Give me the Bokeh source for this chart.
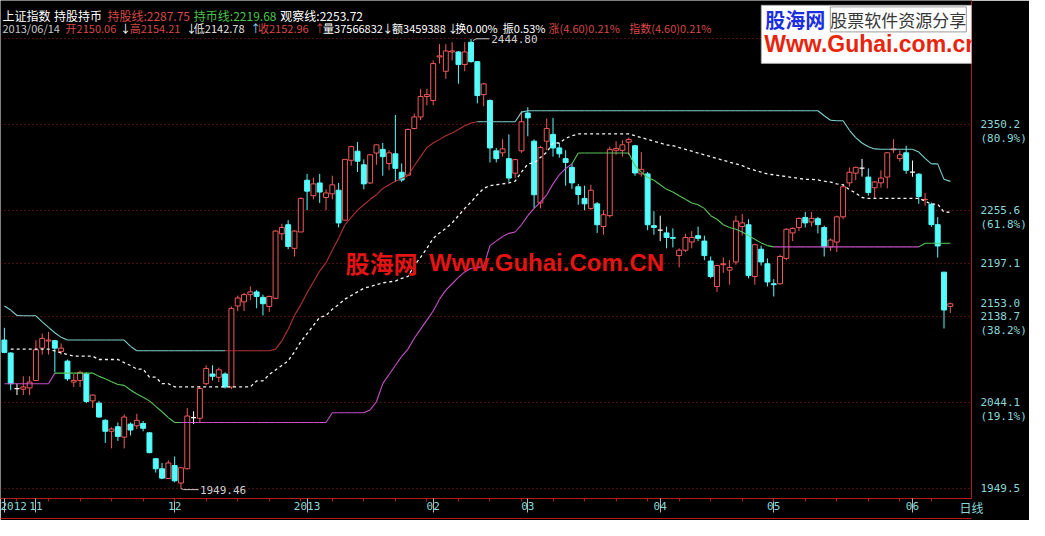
from bokeh.plotting import figure
from bokeh.models import Range1d, FixedTicker, Label, LinearAxis
from bokeh.embed import file_html
from bokeh.resources import INLINE

NAN = float("nan")

# ------------------------------------------------------------------ data
open_ = [2113.0, 2098.7, 2059.6, 2058.9, 2060.3, 2068.5, 2104.1, 2112.0, 2112.3, 2100.5,
         2089.8, 2066.7, 2068.5, 2075.6, 2046.0, 2043.5, 2024.6, 2012.5, 2017.5, 2006.1,
         2020.4, 2018.6, 2021.1, 2010.8, 1982.3, 1971.2, 1960.5, 1974.8, 1955.5, 1971.2,
         2027.5, 2026.8, 2064.9, 2075.6, 2072.0, 2075.6, 2061.3, 2150.5, 2155.0, 2163.0,
         2166.0, 2160.0, 2150.0, 2159.0, 2230.0, 2240.0, 2214.0, 2232.0, 2289.0, 2272.0,
         2286.0, 2270.0, 2274.0, 2278.0, 2245.0, 2311.0, 2321.0, 2306.0, 2286.0, 2319.0,
         2323.0, 2307.5, 2318.1, 2297.8, 2294.6, 2346.0, 2358.7, 2381.2, 2376.9, 2424.8,
         2409.0, 2430.3, 2430.3, 2416.4, 2441.0, 2419.6, 2383.3, 2376.9, 2321.4, 2319.2,
         2312.8, 2296.8, 2321.4, 2363.0, 2332.0, 2264.0, 2332.0, 2339.5, 2324.6, 2312.8,
         2303.2, 2281.8, 2269.0, 2258.0, 2263.0, 2238.0, 2250.0, 2322.0, 2322.0, 2331.0,
         2327.0, 2296.0, 2296.0, 2239.0, 2234.0, 2231.0, 2226.0, 2206.0, 2212.0, 2221.0,
         2228.0, 2222.0, 2200.0, 2172.0, 2196.0, 2190.0, 2199.0, 2238.0, 2240.0, 2183.0,
         2213.0, 2197.0, 2175.0, 2175.0, 2203.0, 2231.0, 2237.0, 2248.0, 2243.0, 2246.6,
         2236.9, 2215.6, 2220.9, 2248.7, 2286.1, 2296.8, 2302.3, 2292.5, 2280.7, 2286.1,
         2292.5, 2322.5, 2312.8, 2319.2, 2298.0, 2295.7, 2267.6, 2262.6, 2240.1, 2187.8,
         2150.06]
high = [2126.5, 2099.5, 2064.9, 2073.1, 2073.1, 2112.9, 2120.1, 2121.9, 2113.0, 2109.4,
        2091.6, 2075.6, 2079.2, 2077.4, 2053.1, 2046.0, 2025.7, 2016.8, 2022.2, 2031.1,
        2022.2, 2031.8, 2023.9, 2011.5, 1982.3, 1977.6, 1980.5, 1984.8, 1972.3, 2038.2,
        2034.6, 2062.4, 2085.2, 2085.2, 2082.7, 2077.4, 2150.0, 2162.0, 2165.0, 2172.0,
        2168.0, 2163.0, 2162.0, 2234.0, 2241.0, 2245.0, 2234.0, 2270.0, 2296.0, 2292.0,
        2296.0, 2279.0, 2294.0, 2286.0, 2312.0, 2327.0, 2331.0, 2312.0, 2318.0, 2328.0,
        2330.0, 2322.0, 2360.9, 2307.5, 2346.0, 2362.3, 2389.8, 2389.8, 2421.0, 2438.9,
        2438.9, 2441.0, 2431.4, 2441.0, 2444.8, 2420.0, 2396.1, 2378.0, 2324.6, 2334.2,
        2339.5, 2312.8, 2365.1, 2369.4, 2334.0, 2327.0, 2357.0, 2357.7, 2330.0, 2322.0,
        2307.0, 2285.0, 2283.0, 2284.0, 2265.0, 2256.0, 2326.0, 2332.0, 2333.0, 2336.0,
        2328.0, 2320.0, 2298.0, 2255.0, 2250.0, 2238.0, 2236.0, 2214.0, 2230.0, 2233.0,
        2238.0, 2228.0, 2205.0, 2196.0, 2204.0, 2201.0, 2250.0, 2252.0, 2246.0, 2219.0,
        2217.0, 2203.0, 2180.0, 2207.0, 2236.0, 2237.0, 2248.0, 2254.0, 2254.0, 2248.7,
        2239.0, 2225.0, 2250.0, 2285.0, 2303.0, 2304.0, 2312.5, 2302.0, 2288.0, 2300.0,
        2320.0, 2334.2, 2322.0, 2327.0, 2310.7, 2296.8, 2275.0, 2264.4, 2248.4, 2187.8,
        2154.21]
low = [2098.5, 2057.8, 2052.4, 2052.4, 2052.4, 2068.0, 2096.9, 2096.9, 2077.4, 2096.9,
       2068.0, 2061.3, 2061.3, 2043.5, 2038.2, 2027.5, 1999.7, 1993.7, 2001.9, 1993.7,
       2007.9, 2015.0, 2012.5, 1988.3, 1967.0, 1959.8, 1959.8, 1956.3, 1949.46, 1970.5,
       2020.4, 2022.2, 2063.1, 2068.5, 2066.7, 2059.6, 2059.0, 2145.0, 2145.0, 2157.0,
       2148.0, 2140.0, 2144.0, 2158.0, 2223.0, 2213.0, 2205.0, 2232.0, 2256.0, 2268.0,
       2264.0, 2256.0, 2268.0, 2237.0, 2245.0, 2305.0, 2298.0, 2279.0, 2285.0, 2306.0,
       2294.0, 2300.0, 2287.2, 2287.2, 2293.6, 2344.9, 2355.2, 2371.6, 2371.6, 2417.5,
       2400.6, 2421.0, 2395.3, 2409.0, 2418.5, 2373.7, 2370.5, 2308.6, 2308.6, 2314.9,
       2287.2, 2291.4, 2319.2, 2337.4, 2258.0, 2258.0, 2322.0, 2315.0, 2313.8, 2283.0,
       2279.6, 2262.0, 2256.0, 2256.0, 2231.0, 2229.0, 2248.0, 2317.0, 2315.0, 2317.0,
       2294.0, 2293.0, 2234.0, 2229.0, 2222.0, 2214.0, 2215.0, 2193.0, 2210.0, 2214.0,
       2222.0, 2201.0, 2181.0, 2166.0, 2187.0, 2174.0, 2196.0, 2228.0, 2181.0, 2174.0,
       2195.0, 2172.0, 2161.0, 2174.0, 2201.0, 2222.0, 2233.0, 2237.0, 2238.0, 2230.5,
       2205.0, 2211.0, 2210.0, 2246.0, 2282.0, 2289.0, 2293.0, 2272.0, 2269.0, 2281.0,
       2280.0, 2319.2, 2309.6, 2296.0, 2292.8, 2263.0, 2260.8, 2237.7, 2203.8, 2125.7,
       2142.78]
close = [2099.4, 2064.9, 2059.6, 2061.3, 2066.7, 2102.3, 2114.8, 2113.0, 2104.1, 2104.1,
         2070.3, 2068.5, 2077.4, 2045.3, 2052.4, 2028.2, 2012.5, 2015.0, 2006.9, 2028.2,
         2013.9, 2024.6, 2015.8, 1989.0, 1971.2, 1960.9, 1977.6, 1958.0, 1972.3, 2029.3,
         2027.5, 2059.6, 2081.6, 2073.1, 2080.2, 2061.3, 2147.9, 2159.3, 2163.0, 2166.0,
         2161.0, 2153.0, 2161.0, 2233.0, 2237.0, 2216.0, 2233.0, 2269.0, 2277.0, 2285.0,
         2276.0, 2275.0, 2284.0, 2242.0, 2312.0, 2326.0, 2310.0, 2285.0, 2317.0, 2328.0,
         2315.0, 2319.2, 2302.1, 2289.3, 2344.9, 2358.7, 2381.2, 2383.3, 2417.5, 2426.0,
         2431.4, 2431.4, 2416.4, 2430.3, 2419.6, 2382.3, 2395.1, 2324.6, 2312.8, 2323.5,
         2291.4, 2311.7, 2353.4, 2357.7, 2273.0, 2325.0, 2345.9, 2324.6, 2318.1, 2308.6,
         2286.1, 2273.3, 2263.0, 2278.0, 2240.0, 2251.0, 2323.0, 2324.0, 2328.0, 2334.0,
         2297.0, 2301.0, 2240.0, 2237.0, 2234.0, 2226.0, 2225.0, 2212.0, 2226.0, 2226.0,
         2225.0, 2206.0, 2183.0, 2195.0, 2197.0, 2193.0, 2244.0, 2242.0, 2184.0, 2218.0,
         2199.0, 2177.0, 2174.0, 2205.0, 2235.0, 2236.0, 2247.0, 2242.0, 2247.0, 2240.1,
         2215.6, 2223.1, 2248.7, 2281.8, 2297.8, 2303.2, 2302.3, 2275.4, 2287.1, 2291.4,
         2319.2, 2323.5, 2317.0, 2300.0, 2298.0, 2271.2, 2268.0, 2240.1, 2216.6, 2146.1,
         2152.96]

month_pos = [0, 5, 27, 48, 68, 83, 104, 122, 144]
month_lab = ["2012", "11", "12", "2013", "02", "03", "04", "05", "06"]

# 持股线 (upper stop line); state C = cyan, R = red
hold_line = [2150.4, 2146.0, 2140.0, 2139.7, 2139.7, 2139.7, 2133.0, 2127.0, 2121.0, 2116.0,
             2113.0, 2113.0, 2113.0, 2113.0, 2113.0, 2113.0, 2113.0, 2113.0, 2113.0, 2113.0,
             2106.0, 2101.2, 2101.2, 2101.2, 2101.2, 2101.2, 2101.2, 2101.2, 2101.2, 2101.2,
             2101.2, 2101.2, 2101.2, 2101.2, 2101.2, 2101.2, 2101.2, 2101.2, 2101.2, 2101.2,
             2101.2, 2101.2, 2101.2, 2103.0, 2112.0, 2125.0, 2140.0, 2152.0, 2165.0, 2177.0,
             2189.0, 2198.0, 2212.0, 2225.0, 2240.0, 2248.0, 2256.0, 2262.0, 2268.0, 2273.0,
             2280.0, 2284.0, 2288.0, 2291.0, 2294.0, 2305.0, 2315.0, 2325.0, 2330.0, 2334.0,
             2338.0, 2341.0, 2345.0, 2349.0, 2352.0, 2353.4, 2353.4, 2353.4, 2353.4, 2353.4,
             2353.4, 2353.4, 2364.0, 2365.5, 2365.5, 2365.5, 2365.5, 2365.5, 2365.5, 2365.5,
             2365.5, 2365.5, 2365.5, 2365.5, 2365.5, 2365.5, 2365.5, 2365.5, 2365.5, 2365.5,
             2365.5, 2365.5, 2365.5, 2365.5, 2365.5, 2365.5, 2365.5, 2365.5, 2365.5, 2365.5,
             2365.5, 2365.5, 2365.5, 2365.5, 2365.5, 2365.5, 2365.5, 2365.5, 2365.5, 2365.5,
             2365.5, 2365.5, 2365.5, 2365.5, 2365.5, 2365.5, 2365.5, 2365.5, 2365.5, 2365.5,
             2360.0, 2355.0, 2354.5, 2354.5, 2344.0, 2336.0, 2330.0, 2326.0, 2323.5, 2323.2,
             2323.2, 2323.2, 2323.2, 2323.2, 2323.2, 2320.0, 2313.0, 2307.0, 2307.0, 2290.0,
             2287.75]
hold_state = ("C" * 36) + ("R" * 40) + ("C" * 75)

# 观察线 (middle, dashed)
watch_line = [NAN, 2103.0, 2103.0, 2103.0, 2103.0, 2103.0, 2103.0, 2103.0, 2101.0, 2098.8,
              2097.0, 2095.2, 2095.2, 2095.2, 2095.2, 2091.6, 2091.6, 2091.6, 2091.6, 2088.1,
              2085.0, 2081.0, 2081.0, 2072.1, 2072.1, 2064.9, 2064.9, 2061.4, 2061.4, 2061.4,
              2061.4, 2061.4, 2061.4, 2061.4, 2061.4, 2061.4, 2061.4, 2061.4, 2061.4, 2061.4,
              2068.0, 2068.0, 2075.0, 2080.0, 2085.0, 2090.0, 2100.0, 2111.0, 2120.0, 2129.0,
              2138.0, 2140.0, 2147.0, 2152.0, 2158.0, 2162.0, 2166.0, 2170.0, 2172.0, 2174.0,
              2176.0, 2177.0, 2178.0, 2181.0, 2183.0, 2195.0, 2204.0, 2214.0, 2225.0, 2231.0,
              2236.0, 2242.0, 2250.0, 2258.0, 2265.0, 2273.0, 2280.0, 2283.0, 2284.0, 2285.0,
              2286.0, 2288.0, 2298.0, 2307.0, 2308.0, 2314.0, 2320.0, 2330.0, 2330.0, 2335.0,
              2338.0, 2340.0, 2340.0, 2340.0, 2340.0, 2340.0, 2340.0, 2340.0, 2340.0, 2340.0,
              2338.0, 2336.0, 2334.0, 2332.0, 2330.0, 2328.0, 2327.0, 2325.0, 2323.0, 2321.0,
              2319.0, 2317.0, 2315.0, 2313.0, 2311.0, 2309.0, 2307.0, 2305.0, 2302.0, 2300.0,
              2298.0, 2296.0, 2295.0, 2294.0, 2293.0, 2292.0, 2291.0, 2290.0, 2290.0, 2289.3,
              2288.0, 2287.0, 2285.0, 2284.0, 2278.6, 2275.0, 2270.0, 2269.0, 2269.0, 2269.0,
              2269.0, 2269.0, 2269.0, 2269.0, 2269.0, 2269.0, 2266.0, 2262.6, 2262.6, 2254.0,
              2253.72]

# 持币线 (lower stop line); state G = green, M = magenta
cash_line = [2064.9, 2064.9, 2064.9, 2064.9, 2064.9, 2064.9, 2064.9, 2064.9, 2076.6, 2076.6,
             2076.6, 2076.6, 2076.6, 2076.6, 2076.6, 2073.0, 2070.3, 2067.0, 2064.0, 2063.1,
             2058.0, 2053.5, 2050.0, 2046.0, 2040.0, 2034.0, 2027.5, 2022.2, 2022.2, 2022.2,
             2022.2, 2022.2, 2022.2, 2022.2, 2022.2, 2022.2, 2022.2, 2022.2, 2022.2, 2022.2,
             2022.2, 2022.2, 2022.2, 2022.2, 2022.2, 2022.2, 2022.2, 2022.2, 2022.2, 2022.2,
             2022.2, 2022.2, 2032.9, 2032.9, 2032.9, 2032.9, 2032.9, 2032.9, 2036.0, 2045.0,
             2065.0, 2075.0, 2085.0, 2095.0, 2103.0, 2115.0, 2125.0, 2135.0, 2145.0, 2158.0,
             2168.0, 2175.0, 2182.0, 2188.0, 2192.0, 2193.0, 2194.0, 2217.0, 2222.0, 2227.0,
             2230.5, 2232.0, 2240.0, 2250.0, 2258.0, 2265.0, 2273.0, 2285.0, 2295.0, 2302.0,
             2307.0, 2319.0, 2319.0, 2319.0, 2319.0, 2319.0, 2319.0, 2319.0, 2319.0, 2319.0,
             2305.0, 2298.0, 2292.0, 2289.0, 2284.0, 2279.0, 2276.0, 2272.0, 2268.0, 2264.0,
             2262.0, 2258.0, 2250.0, 2246.0, 2240.0, 2237.0, 2235.0, 2232.0, 2228.0, 2224.0,
             2220.0, 2217.0, 2215.6, 2215.6, 2215.6, 2215.6, 2215.6, 2215.6, 2215.6, 2215.6,
             2215.6, 2215.6, 2215.6, 2215.6, 2215.6, 2215.6, 2215.6, 2215.6, 2215.6, 2215.6,
             2215.6, 2215.6, 2215.6, 2215.6, 2215.6, 2215.6, 2219.68, 2219.68, 2219.68, 2219.68,
             2219.68]
cash_state = "G" + ("M" * 8) + ("G" * 20) + ("M" * 62) + ("G" * 32) + ("M" * 23) + ("G" * 5)

fib = [0.0, 0.191, 0.382, 0.5, 0.618, 0.809, 1.0]
pct_shown = [0.191, 0.382, 0.618, 0.809]
last_date = "2013/06/14"
volume = "37566832"
amount = "3459388"
turnover = "0.00%"
amplitude = "0.53%"
change = "(4.60)0.21%"

# ------------------------------------------------------------------ layout
W, H = 1029, 520
SX, SY = W / 1045.0, H / 536.0
BR, BB = 45, 22


def RX(xr):
    return (xr - 4.0) / 6.49


def RY(yr):
    return 2350.2 - (yr - 128.0) * 1.0685


x_lo, x_hi = RX(0), RX((W - BR) / SX)
y_lo, y_hi = RY((H - BB) / SY), RY(0)

RED = "#f05a5a"
CYAN = "#54fcfc"
AXRED = "#b41c1c"
LBL = "#8ad8d8"
TXT_RED = "#d84848"
TXT_GREEN = "#4cc44c"
CJK = "Noto Sans CJK SC"
MONO = "DejaVu Sans Mono"

p = figure(width=W, height=H, output_backend="svg", toolbar_location=None,
           x_range=Range1d(x_lo, x_hi), y_range=Range1d(y_lo, y_hi),
           y_axis_location="right",
           min_border_left=0, min_border_right=BR, min_border_top=0, min_border_bottom=BB,
           background_fill_color="black", border_fill_color="black",
           outline_line_color=None)

n = len(close)
idx = list(range(n))
lo_v, hi_v = min(low), max(high)
levels = [lo_v + f * (hi_v - lo_v) for f in fib]

# grid
p.xgrid.visible = False
p.ygrid.ticker = FixedTicker(ticks=levels)
p.ygrid.grid_line_color = "#9a1c1c"
p.ygrid.grid_line_dash = "1 3"
p.ygrid.grid_line_width = 1

# candles
BODY_W = 0.78
wick_col = [RED if c > o else (CYAN if c < o else "#ffffff") for o, c in zip(open_, close)]
p.segment(x0=idx, y0=high, x1=idx, y1=low, line_color=wick_col, line_width=1)
up = [i for i in idx if close[i] > open_[i]]
dn = [i for i in idx if close[i] < open_[i]]
eq = [i for i in idx if close[i] == open_[i]]
p.vbar(x=up, width=BODY_W, top=[close[i] for i in up], bottom=[open_[i] for i in up],
       fill_color="black", line_color=RED, line_width=1)
p.vbar(x=dn, width=BODY_W, top=[open_[i] for i in dn], bottom=[close[i] for i in dn],
       fill_color=CYAN, line_color=CYAN, line_width=1)
p.segment(x0=[i - BODY_W / 2 for i in eq], y0=[close[i] for i in eq],
          x1=[i + BODY_W / 2 for i in eq], y1=[close[i] for i in eq],
          line_color="#ffffff", line_width=1.2)

# indicator lines
HOLD_C = {"C": "#7fd2d2", "R": "#b43232"}
CASH_C = {"G": "#5ac85a", "M": "#c850c8"}
p.segment(x0=idx[:-1], y0=hold_line[:-1], x1=idx[1:], y1=hold_line[1:],
          line_color=[HOLD_C[s] for s in hold_state[1:]], line_width=1.1)
p.segment(x0=idx[:-1], y0=cash_line[:-1], x1=idx[1:], y1=cash_line[1:],
          line_color=[CASH_C[s] for s in cash_state[1:]], line_width=1.1)
p.line(idx, watch_line, line_color="#f4f4f4", line_dash="3 3", line_width=1.3)

# max / min markers
imax = high.index(hi_v)
imin = low.index(lo_v)
p.line([imax + 0.3, imax + 0.8, imax + 2.9], [hi_v - 2.0, hi_v, hi_v], line_color="#c8c8c8", line_width=1)
p.line([imin, imin + 0.4, imin + 2.8], [lo_v, lo_v - 1.2, lo_v - 1.2], line_color="#c8c8c8", line_width=1)
p.add_layout(Label(x=imax + 3.2, y=hi_v, text=f"{hi_v:.2f}", text_align="left", text_baseline="middle",
                   text_color="#d0d0d0", text_font=MONO, text_font_size="11px"))
p.add_layout(Label(x=imin + 3.0, y=lo_v - 1.8, text=f"{lo_v:.2f}", text_align="left", text_baseline="middle",
                   text_color="#d0d0d0", text_font=MONO, text_font_size="11px"))

# right axis (price levels, their percentages and the last price)
pct_off = 15.0
ticks = []
labels = {}
for f, lv in zip(fib, levels):
    if f < 1.0:
        ticks.append(lv)
        labels[lv] = f"{lv:.1f}"
    if f in pct_shown:
        ticks.append(lv - pct_off)
        labels[lv - pct_off] = f"({f * 100:.1f}%)"
ticks.append(close[-1])
labels[close[-1]] = f"{close[-1]:.1f}"

ya = p.yaxis[0]
ya.ticker = FixedTicker(ticks=ticks)
ya.major_label_overrides = labels
ya.axis_line_color = AXRED
ya.axis_line_width = 1
ya.major_tick_line_color = None
ya.minor_tick_line_color = None
ya.major_label_text_color = LBL
ya.major_label_text_font = MONO
ya.major_label_text_font_size = "11px"
ya.major_label_standoff = 3

# bottom axis (months)
xa = p.xaxis[0]
xa.ticker = FixedTicker(ticks=month_pos, minor_ticks=[i for i in range(2, n, 5)])
xa.major_label_overrides = {m: lab for m, lab in zip(month_pos, month_lab)}
xa.axis_line_color = AXRED
xa.major_tick_line_color = "#b8b8b8"
xa.major_tick_out = 14
xa.major_tick_in = 0
xa.minor_tick_line_color = AXRED
xa.minor_tick_out = 3
xa.minor_tick_in = 0
xa.major_label_standoff = -11
xa.major_label_text_align = "left"
xa.major_label_text_color = LBL
xa.major_label_text_font = MONO
xa.major_label_text_font_size = "11px"
try:
    xa.axis_label_align = "end"
    xa.axis_label = "日线"
    xa.axis_label_standoff = -14
    xa.axis_label_text_color = LBL
    xa.axis_label_text_font = CJK
    xa.axis_label_text_font_size = "12px"
    xa.axis_label_text_font_style = "normal"
except Exception:
    xa.axis_label = None

ax2 = LinearAxis(ticker=FixedTicker(ticks=[]), axis_line_color=AXRED,
                 major_tick_line_color=None, minor_tick_line_color=None,
                 major_label_text_font_size="0px", major_label_standoff=0)
p.add_layout(ax2, "below")

# header
hdr1 = [("上证指数", 2, "#ffffff"), ("持股持币", 55, "#ffffff"),
        (f"持股线:{hold_line[-1]:.2f}", 110, TXT_RED),
        (f"持币线:{cash_line[-1]:.2f}", 199, TXT_GREEN),
        (f"观察线:{watch_line[-1]:.2f}", 288, "#ffffff")]
for t, xr, col in hdr1:
    p.add_layout(Label(x=RX(xr), y=RY(15.5), text=t, text_align="left", text_baseline="middle",
                       text_color=col, text_font=CJK, text_font_size="12px"))

hdr2 = [(last_date, 2, "#c8c8c8"),
        (f"开{open_[-1]:.2f}", 67, TXT_RED), ("↓", 123, "#ffffff"),
        (f"高{high[-1]:.2f}", 133, TXT_RED), ("↓", 191, "#ffffff"),
        (f"低{low[-1]:.2f}", 199, "#e6e6e6"), ("↑", 257, "#80d8ff"),
        (f"收{close[-1]:.2f}", 265, TXT_RED), ("↑", 323, TXT_RED),
        (f"量{volume}", 332, "#ffffff"), ("↓", 393, "#ffffff"),
        (f"额{amount}", 403, "#ffffff"), ("↓", 460, "#ffffff"),
        (f"换{turnover}", 468, "#ffffff"), (f"振{amplitude}", 517, "#ffffff"),
        (f"涨{change}", 564, TXT_RED), (f"指数{change}", 647, TXT_RED)]
for t, xr, col in hdr2:
    p.add_layout(Label(x=RX(xr), y=RY(28.5), text=t, text_align="left", text_baseline="middle",
                       text_color=col, text_font=CJK, text_font_size="11px"))

# watermark
p.add_layout(Label(x=RX(355), y=RY(270.5), text="股海网", text_align="left", text_baseline="middle",
                   text_color="#e41414", text_font=CJK, text_font_size="24px", text_font_style="bold"))
p.add_layout(Label(x=RX(441), y=RY(270.5), text="Www.Guhai.Com.CN", text_align="left", text_baseline="middle",
                   text_color="#e41414", text_font="Liberation Sans", text_font_size="24px",
                   text_font_style="bold"))

# logo box (top right)
LX = 783
p.add_layout(Label(x=RX(LX), y=RY(5), text="\u3000" * 8, text_align="left", text_baseline="top",
                   text_color="#ffffff", text_font=CJK, text_font_size="40px",
                   background_fill_color="#ffffff", border_line_color="#b0b0b0"))
p.add_layout(Label(x=RX(LX + 4), y=RY(19.5), text="股海网", text_align="left", text_baseline="middle",
                   text_color="#1a2ee0", text_font=CJK, text_font_size="20px", text_font_style="bold"))
p.add_layout(Label(x=RX(LX + 71), y=RY(19.5), text="股票软件资源分享", text_align="left", text_baseline="middle",
                   text_color="#383838", text_font=CJK, text_font_size="17px",
                   border_line_color="#9a9a9a"))
p.add_layout(Label(x=RX(LX + 3), y=RY(44.5), text="Www.Guhai.com.cn", text_align="left", text_baseline="middle",
                   text_color="#e8240c", text_font="Liberation Sans", text_font_size="23px",
                   text_font_style="bold"))

open("out.html", "w").write(file_html(p, INLINE))
